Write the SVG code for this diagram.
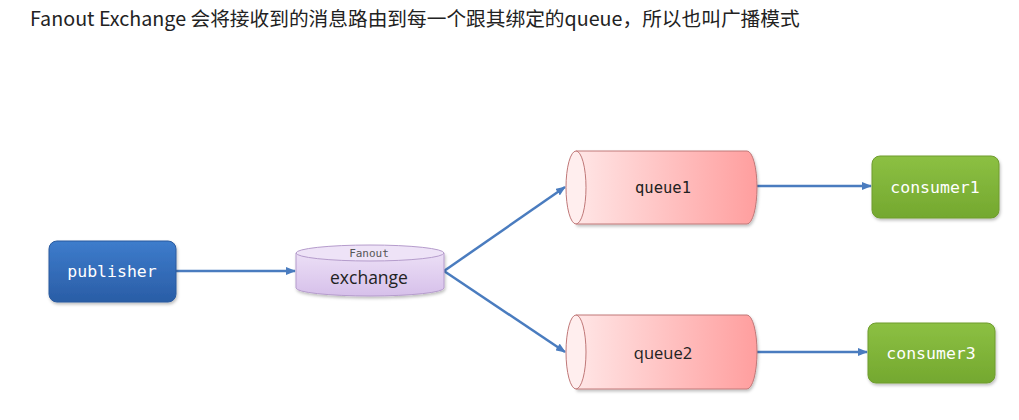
<svg xmlns="http://www.w3.org/2000/svg" width="1019" height="420" viewBox="0 0 1019 420">
<defs>
<linearGradient id="gBlue" x1="0" y1="0" x2="0" y2="1"><stop offset="0" stop-color="#3d7ccc"/><stop offset="1" stop-color="#2a5da6"/></linearGradient>
<linearGradient id="gGreen" x1="0" y1="0" x2="0" y2="1"><stop offset="0" stop-color="#8cc043"/><stop offset="1" stop-color="#74a82f"/></linearGradient>
<linearGradient id="gRed" x1="0" y1="0" x2="1" y2="0"><stop offset="0" stop-color="#ffe6e6"/><stop offset="1" stop-color="#ff9e9e"/></linearGradient>
<linearGradient id="gPurple" x1="0" y1="0" x2="0" y2="1"><stop offset="0" stop-color="#ecdff6"/><stop offset="1" stop-color="#d6c0ea"/></linearGradient>
<marker id="arr" markerWidth="10" markerHeight="8" refX="9" refY="4" orient="auto" markerUnits="userSpaceOnUse"><path d="M0,0 L10,4 L0,8 Z" fill="#4a7cbf"/></marker>
<filter id="sh" x="-10%" y="-10%" width="130%" height="140%"><feDropShadow dx="1" dy="2" stdDeviation="1.5" flood-color="#000" flood-opacity="0.25"/></filter>
</defs>
<style>
.title{font-family:"Noto Sans CJK SC","Noto Sans",sans-serif;font-size:19.7px;fill:#222}
.mono{font-family:"DejaVu Sans Mono","Liberation Mono",monospace}
.sans{font-family:"Open Sans","Noto Sans",sans-serif}
.wt{fill:#fff;font-size:16.5px}
.dk{fill:#222;font-size:15.5px}
.conn{stroke:#4a7cbf;stroke-width:2.5;fill:none;marker-end:url(#arr)}
.cyl{stroke:#c07878;stroke-width:1}
</style>
<rect width="1019" height="420" fill="#fff"/>
<text class="title" x="30" y="26">Fanout Exchange 会将接收到的消息路由到每一个跟其绑定的queue，所以也叫广播模式</text>
<g id="connectors">
<line class="conn" x1="176" y1="271" x2="295" y2="271"/>
<line class="conn" x1="444" y1="271" x2="565" y2="187"/>
<line class="conn" x1="444" y1="271" x2="565" y2="352"/>
<line class="conn" x1="757" y1="186" x2="871" y2="186"/>
<line class="conn" x1="757" y1="352" x2="867" y2="352"/>
</g>
<g id="publisher">
<rect x="49" y="241" width="127" height="61" rx="8" fill="url(#gBlue)" stroke="#2a5a9e" filter="url(#sh)"/>
<text class="mono wt" x="112" y="277" text-anchor="middle">publisher</text>
</g>
<g id="exchange">
<path d="M296,253 L296,288 A74,8 0 0 0 444,288 L444,253 Z" fill="url(#gPurple)" stroke="#b59ccc" filter="url(#sh)"/>
<ellipse cx="370" cy="253" rx="74" ry="8" fill="#eee3f7" stroke="#b59ccc"/>
<text class="mono" x="369" y="257" text-anchor="middle" font-size="11" fill="#555">Fanout</text>
<text class="sans" x="369" y="284" text-anchor="middle" font-size="17.5" fill="#222">exchange</text>
</g>
<g id="queue1">
<path d="M576,151 L747,151 A10,36.5 0 0 1 747,224 L576,224 Z" fill="url(#gRed)" class="cyl" filter="url(#sh)"/>
<ellipse cx="576" cy="187.5" rx="10" ry="36.5" fill="#ffeeee" class="cyl"/>
<text class="mono dk" x="663" y="193" text-anchor="middle">queue1</text>
</g>
<g id="queue2">
<path d="M576,315 L747,315 A10,37 0 0 1 747,389 L576,389 Z" fill="url(#gRed)" class="cyl" filter="url(#sh)"/>
<ellipse cx="576" cy="352" rx="10" ry="37" fill="#ffeeee" class="cyl"/>
<text class="sans" x="663" y="359" text-anchor="middle" font-size="16.5" fill="#222">queue2</text>
</g>
<g id="consumer1">
<rect x="872" y="156" width="127" height="62" rx="8" fill="url(#gGreen)" stroke="#6e9c2e" filter="url(#sh)"/>
<text class="mono wt" x="935" y="193" text-anchor="middle">consumer1</text>
</g>
<g id="consumer3">
<rect x="868" y="323" width="127" height="60" rx="8" fill="url(#gGreen)" stroke="#6e9c2e" filter="url(#sh)"/>
<text class="mono wt" x="931" y="359" text-anchor="middle">consumer3</text>
</g>
</svg>
